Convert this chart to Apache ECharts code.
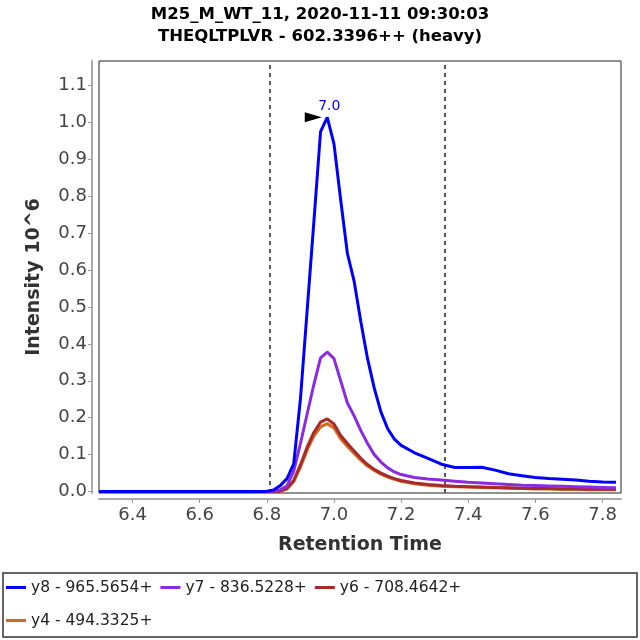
<!DOCTYPE html>
<html>
<head>
<meta charset="utf-8">
<script src="https://cdn.jsdelivr.net/npm/echarts@6.0.0/dist/echarts.min.js"></script>
<style>
  html, body { margin: 0; padding: 0; background: #fff; }
  #chart { width: 640px; height: 640px; }
</style>
</head>
<body>
<div id="chart"></div>
<script>
// chart init
var chart = echarts.init(document.getElementById('chart'));

// retention times (min)
var times = [6.30, 6.34, 6.38, 6.42, 6.46, 6.50, 6.54, 6.58, 6.62, 6.66, 6.70, 6.74, 6.78,
  6.80, 6.82, 6.84, 6.86, 6.88, 6.90, 6.92, 6.94, 6.96, 6.98, 7.00, 7.02, 7.04, 7.06, 7.08,
  7.10, 7.12, 7.14, 7.16, 7.18, 7.20,
  7.24, 7.28, 7.32, 7.36, 7.40, 7.44, 7.48, 7.52, 7.56, 7.60, 7.64, 7.68, 7.72, 7.76, 7.80, 7.84];

// intensities, 10^6
var y8 = [0, 0, 0, 0, 0, 0, 0, 0, 0, 0, 0, 0, 0,
  0.001, 0.004, 0.016, 0.035, 0.075, 0.25, 0.49, 0.73, 0.975, 1.014, 0.942, 0.79, 0.645, 0.57, 0.46,
  0.36, 0.28, 0.215, 0.17, 0.142, 0.125,
  0.105, 0.09, 0.074, 0.065, 0.065, 0.066, 0.058, 0.048, 0.043, 0.038, 0.035, 0.033, 0.031, 0.028, 0.026, 0.025];
var y7 = [0, 0, 0, 0, 0, 0, 0, 0, 0, 0, 0, 0, 0,
  0, 0.001, 0.005, 0.015, 0.055, 0.13, 0.21, 0.29, 0.362, 0.378, 0.36, 0.30, 0.24, 0.205, 0.165,
  0.13, 0.10, 0.08, 0.064, 0.053, 0.046,
  0.038, 0.034, 0.031, 0.028, 0.025, 0.023, 0.021, 0.019, 0.017, 0.016, 0.015, 0.014, 0.013, 0.012, 0.011, 0.010];
var y6 = [0, 0, 0, 0, 0, 0, 0, 0, 0, 0, 0, 0, 0,
  0, 0, 0.001, 0.008, 0.03, 0.072, 0.12, 0.16, 0.188, 0.197, 0.183, 0.152, 0.13, 0.11, 0.09,
  0.073, 0.06, 0.05, 0.042, 0.035, 0.030,
  0.023, 0.019, 0.016, 0.014, 0.013, 0.012, 0.011, 0.010, 0.009, 0.008, 0.008, 0.007, 0.007, 0.006, 0.006, 0.006];
var y4 = [0, 0, 0, 0, 0, 0, 0, 0, 0, 0, 0, 0, 0,
  0, 0, 0.001, 0.007, 0.027, 0.066, 0.112, 0.15, 0.175, 0.184, 0.172, 0.143, 0.122, 0.103, 0.085,
  0.069, 0.057, 0.047, 0.039, 0.033, 0.028,
  0.021, 0.017, 0.014, 0.013, 0.012, 0.011, 0.010, 0.009, 0.008, 0.007, 0.007, 0.006, 0.006, 0.005, 0.005, 0.005];

var names = ['y8 - 965.5654+', 'y7 - 836.5228+', 'y6 - 708.4642+', 'y4 - 494.3325+'];
var colors = ['#0000ff', '#8a2be2', '#a52a2a', '#d2691e'];

// tick labels
var xTicks = [6.4, 6.6, 6.8, 7.0, 7.2, 7.4, 7.6, 7.8];
var yTicks = [0, 0.1, 0.2, 0.3, 0.4, 0.5, 0.6, 0.7, 0.8, 0.9, 1.0, 1.1];

// peak + integration boundaries
var peakTime = 6.98;
var peakValue = 1.014;
var peakLabel = '7.0';
var boundaries = [6.814, 7.333];

function pairs(vals) {
  return times.map(function (t, i) { return [t, vals[i]]; });
}

var allSeries = [y8, y7, y6, y4].map(function (vals, i) {
  return {
    name: names[i],
    type: 'line',
    data: pairs(vals),
    showSymbol: false,
    symbol: 'none',
    z: 10 - i,
    lineStyle: { width: 3, color: colors[i] },
    itemStyle: { color: colors[i] }
  };
});
// orange under red
allSeries[3].z = 5;

// dashed boundaries + peak marker on the first series
allSeries[0].markLine = {
  silent: true,
  symbol: 'none',
  label: { show: false },
  lineStyle: { color: '#555', type: [4, 4], width: 2 },
  data: boundaries.map(function (b) { return { xAxis: b }; })
};
allSeries[0].markPoint = {
  silent: true,
  data: [
    {
      coord: [peakTime, peakValue],
      symbol: 'triangle',
      symbolRotate: -90,
      symbolSize: [10, 17],
      symbolOffset: [-14, 0],
      itemStyle: { color: '#000' },
      label: { show: false }
    },
    {
      coord: [peakTime, peakValue],
      symbol: 'circle',
      symbolSize: 1,
      itemStyle: { color: 'rgba(0,0,0,0)' },
      label: {
        show: true,
        formatter: peakLabel,
        position: 'top',
        distance: 3,
        offset: [2, 0],
        color: '#0000ff',
        fontSize: 14,
        fontFamily: 'DejaVu Sans'
      }
    }
  ]
};

var font = 'DejaVu Sans';

var option = {
  animation: false,
  backgroundColor: '#fff',
  title: {
    text: 'M25_M_WT_11, 2020-11-11 09:30:03\nTHEQLTPLVR - 602.3396++ (heavy)',
    left: 'center',
    top: -1,
    textStyle: { fontFamily: font, fontWeight: 'bold', fontSize: 16.5, color: '#000', lineHeight: 22 }
  },
  grid: {
    left: 99, right: 19, top: 61, bottom: 147,
    show: true, borderColor: '#222', borderWidth: 1, backgroundColor: '#fff'
  },
  legend: {
    data: names,
    left: 6, top: 575, width: 480,
    padding: 0,
    itemWidth: 20, itemHeight: 3, itemGap: 8,
    icon: 'rect',
    textStyle: { fontFamily: font, fontSize: 15.5, color: '#222', lineHeight: 25 }
  },
  graphic: [{
    type: 'rect',
    shape: { x: 3, y: 573, width: 634, height: 64 },
    style: { fill: 'none', stroke: '#333', lineWidth: 1.5 }
  }],
  xAxis: {
    type: 'value',
    min: 6.3, max: 7.855,
    offset: 6,
    name: 'Retention Time',
    nameLocation: 'middle',
    nameGap: 37,
    nameTextStyle: { fontFamily: font, fontWeight: 'bold', fontSize: 19, color: '#333' },
    axisLine: { show: true, onZero: false, lineStyle: { color: '#aaa', width: 2 } },
    axisTick: { show: true, length: 4, customValues: xTicks, lineStyle: { color: '#999' } },
    axisLabel: {
      customValues: xTicks,
      fontFamily: font, fontSize: 18, color: '#444', margin: 7,
      formatter: function (v) { return v.toFixed(1); }
    },
    splitLine: { show: false }
  },
  yAxis: {
    type: 'value',
    min: -0.004, max: 1.1667,
    offset: 7,
    name: 'Intensity 10^6',
    nameLocation: 'middle',
    nameGap: 48,
    nameTextStyle: { fontFamily: font, fontWeight: 'bold', fontSize: 19, color: '#333' },
    axisLine: { show: true, onZero: false, lineStyle: { color: '#aaa', width: 2 } },
    axisTick: { show: true, length: 4, customValues: yTicks, lineStyle: { color: '#999' } },
    axisLabel: {
      customValues: yTicks,
      fontFamily: font, fontSize: 18, color: '#444', margin: 5,
      formatter: function (v) { return v.toFixed(1); }
    },
    splitLine: { show: false }
  },
  series: allSeries
};

chart.setOption(option);
</script>
</body>
</html>
